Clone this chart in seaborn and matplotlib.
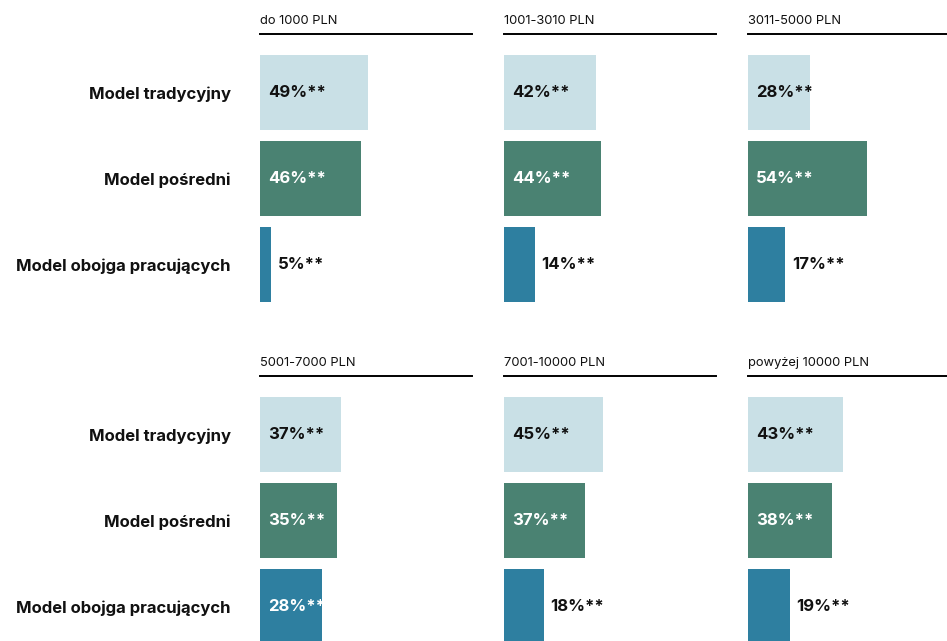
import numpy as np
import pandas as pd
import matplotlib
matplotlib.use("Agg")
import matplotlib.pyplot as plt
import seaborn as sns

# dane: udział modeli w grupach dochodowych
groups = ["do 1000 PLN", "1001-3010 PLN", "3011-5000 PLN",
          "5001-7000 PLN", "7001-10000 PLN", "powyżej 10000 PLN"]
models = ["Model tradycyjny", "Model pośredni", "Model obojga pracujących"]
tradycyjny = [49, 42, 28, 37, 45, 43]
posredni = [46, 44, 54, 35, 37, 38]
obojga = [5, 14, 17, 28, 18, 19]

colors = ["#c9e0e6", "#4a8272", "#2e7fa0"]
text_in = ["#111111", "white", "white"]

rows = []
for i, g in enumerate(groups):
    for m, vals in zip(models, [tradycyjny, posredni, obojga]):
        rows.append([g, m, vals[i]])
df = pd.DataFrame(rows, columns=["grupa", "model", "wartosc"])

sns.set_style("white")
plt.rcParams["font.family"] = ["Inter", "DejaVu Sans"]

W, H = 947, 641
fig = plt.figure(figsize=(W / 100, H / 100), dpi=100)

col_left = [260, 504, 748]
row_top = [34, 376]
aw, ah = 212, 268
px_per = 2.2

for i, g in enumerate(groups):
    r, c = divmod(i, 3)
    ax = fig.add_axes([col_left[c] / W, 1 - (row_top[r] + ah) / H, aw / W, ah / H])
    sub = df[df["grupa"] == g]
    sns.barplot(data=sub, x="wartosc", y="model", hue="model", order=models,
                hue_order=models, palette=colors, orient="h", width=0.872,
                legend=False, ax=ax, saturation=1, linewidth=0)
    ax.set_xlim(0, aw / px_per)
    ax.set_ylim(2.436, -0.68)
    for s in ["left", "right", "bottom"]:
        ax.spines[s].set_visible(False)
    ax.spines["top"].set_color("black")
    ax.spines["top"].set_linewidth(1.4)
    ax.set_xticks([])
    ax.set_xlabel("")
    ax.set_ylabel("")
    ax.tick_params(axis="y", length=0, pad=21)
    if c == 0:
        ax.set_yticks(range(3))
        ax.set_yticklabels(models, fontsize=12, fontweight="bold", color="#111111")
    else:
        ax.set_yticks([])
    ax.set_title(g, loc="left", fontsize=9.3, pad=7, color="#111111")
    for k, v in enumerate(sub.set_index("model").loc[models, "wartosc"]):
        if v >= 25:
            ax.text(3.7, k, f"{v}%**", va="center", ha="left", fontsize=12,
                    fontweight="bold", color=text_in[k])
        else:
            ax.text(v + 3, k, f"{v}%**", va="center", ha="left", fontsize=12,
                    fontweight="bold", color="#111111")

fig.savefig("out.png", dpi=100, facecolor="white")
